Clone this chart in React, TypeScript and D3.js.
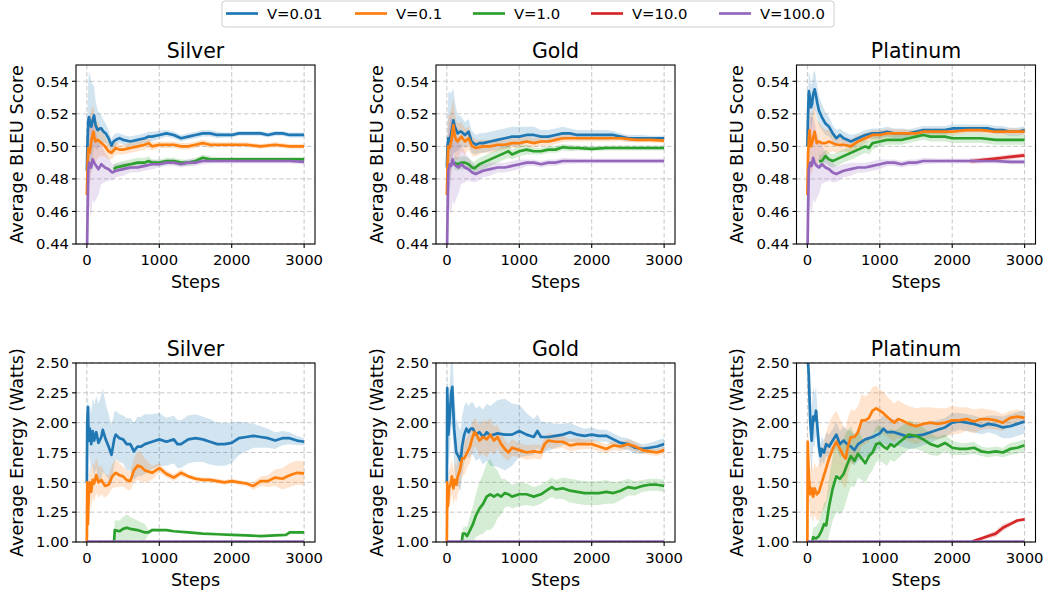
import React from 'react';
import * as d3 from 'd3';

type P = [number, number, number]; // [step, mean, half-width of band]

// ---------------- legend / axes text ----------------
const SERIES_LABELS = ['V=0.01', 'V=0.1', 'V=1.0', 'V=10.0', 'V=100.0'];
const SERIES_COLORS = ['#1f77b4', '#ff7f0e', '#2ca02c', '#d62728', '#9467bd'];
const PANEL_TITLES = ['Silver', 'Gold', 'Platinum'];
const X_TICKS = [0, 1000, 2000, 3000];
const BLEU_TICKS = [0.44, 0.46, 0.48, 0.5, 0.52, 0.54];
const ENERGY_TICKS = [1.0, 1.25, 1.5, 1.75, 2.0, 2.25, 2.5];

// ---------------- BLEU: Silver ----------------
const silverBleuBlue: P[] = [[0,0.485,0.01],[10,0.505,0.02],[20,0.516,0.025],[30,0.518,0.028],[45,0.514,0.03],[60,0.512,0.028],[80,0.516,0.022],[100,0.519,0.018],[120,0.513,0.015],[150,0.51,0.012],[180,0.511,0.009],[200,0.511,0.008],[230,0.509,0.007],[260,0.508,0.006],[300,0.505,0.005],[340,0.5005,0.004],[370,0.503,0.004],[400,0.504,0.004],[450,0.505,0.003],[500,0.504,0.003],[600,0.503,0.003],[700,0.504,0.003],[800,0.505,0.003],[850,0.506,0.003],[900,0.506,0.003],[1000,0.507,0.0025],[1100,0.508,0.002],[1200,0.507,0.002],[1300,0.505,0.002],[1400,0.506,0.002],[1500,0.507,0.002],[1600,0.508,0.002],[1700,0.508,0.002],[1800,0.507,0.002],[1900,0.507,0.0015],[2000,0.507,0.0015],[2100,0.508,0.0015],[2200,0.508,0.0015],[2300,0.508,0.0015],[2400,0.508,0.0015],[2500,0.507,0.0015],[2600,0.508,0.0015],[2700,0.508,0.0015],[2800,0.507,0.0015],[2900,0.507,0.0015],[3000,0.507,0.0015]];
const silverBleuOrange: P[] = [[0,0.47,0.015],[10,0.49,0.02],[20,0.499,0.02],[30,0.497,0.02],[40,0.496,0.02],[60,0.503,0.02],[75,0.506,0.018],[90,0.509,0.016],[105,0.505,0.015],[120,0.503,0.013],[150,0.504,0.011],[180,0.503,0.009],[200,0.502,0.008],[250,0.5,0.006],[300,0.497,0.005],[340,0.496,0.004],[400,0.499,0.004],[450,0.498,0.003],[500,0.498,0.003],[600,0.499,0.003],[700,0.5,0.003],[800,0.501,0.003],[850,0.502,0.003],[900,0.5,0.0025],[1000,0.501,0.002],[1100,0.501,0.002],[1200,0.501,0.002],[1300,0.5,0.002],[1400,0.5,0.002],[1500,0.501,0.002],[1600,0.502,0.002],[1700,0.501,0.002],[1800,0.501,0.0015],[2000,0.501,0.0015],[2200,0.501,0.0015],[2400,0.5,0.0015],[2600,0.501,0.0015],[2800,0.5,0.0015],[3000,0.5,0.0015]];
const silverBleuGreen: P[] = [[370,0.486,0.003],[400,0.487,0.003],[500,0.488,0.003],[600,0.489,0.003],[700,0.49,0.003],[800,0.49,0.003],[850,0.491,0.003],[900,0.49,0.002],[1000,0.49,0.002],[1100,0.491,0.002],[1200,0.491,0.002],[1300,0.49,0.002],[1400,0.49,0.002],[1500,0.491,0.002],[1600,0.493,0.002],[1700,0.492,0.002],[1800,0.492,0.0015],[2000,0.492,0.0015],[2200,0.492,0.0015],[2400,0.492,0.0015],[2600,0.492,0.0015],[2800,0.492,0.0015],[3000,0.492,0.0015]];
const silverBleuPurple: P[] = [[0,0.43,0.02],[10,0.46,0.025],[20,0.485,0.025],[30,0.49,0.025],[40,0.488,0.028],[60,0.487,0.03],[80,0.492,0.025],[100,0.49,0.025],[130,0.488,0.02],[160,0.486,0.016],[200,0.489,0.012],[250,0.487,0.009],[300,0.486,0.007],[350,0.484,0.005],[400,0.485,0.004],[500,0.486,0.004],[600,0.487,0.003],[700,0.487,0.003],[800,0.488,0.003],[900,0.489,0.003],[1000,0.489,0.002],[1100,0.49,0.002],[1200,0.49,0.002],[1300,0.489,0.002],[1400,0.49,0.002],[1500,0.49,0.002],[1600,0.491,0.002],[1700,0.491,0.0015],[1800,0.491,0.0015],[2000,0.491,0.0015],[2200,0.491,0.0015],[2400,0.491,0.0015],[2600,0.491,0.0015],[2800,0.491,0.0015],[3000,0.4905,0.0015]];
const silverBleuRed: P[] = []; // fully hidden beneath V=100.0

// ---------------- BLEU: Gold ----------------
const goldBleuBlue: P[] = [[0,0.487,0.01],[10,0.5,0.02],[20,0.505,0.028],[30,0.504,0.03],[40,0.503,0.03],[60,0.508,0.025],[75,0.512,0.022],[90,0.516,0.02],[110,0.512,0.016],[130,0.51,0.013],[150,0.508,0.011],[180,0.509,0.01],[200,0.509,0.009],[250,0.507,0.008],[300,0.509,0.008],[340,0.503,0.007],[400,0.501,0.006],[450,0.502,0.006],[500,0.502,0.006],[600,0.503,0.006],[700,0.504,0.006],[800,0.505,0.006],[900,0.506,0.006],[1000,0.506,0.006],[1100,0.507,0.005],[1200,0.507,0.005],[1300,0.506,0.004],[1400,0.506,0.004],[1500,0.507,0.004],[1600,0.508,0.004],[1700,0.508,0.003],[1800,0.507,0.003],[1900,0.507,0.003],[2000,0.507,0.003],[2100,0.507,0.003],[2200,0.507,0.003],[2300,0.507,0.0025],[2400,0.506,0.002],[2500,0.505,0.002],[2600,0.505,0.002],[2700,0.505,0.002],[2800,0.505,0.0015],[2900,0.505,0.0015],[3000,0.505,0.0015]];
const goldBleuOrange: P[] = [[0,0.47,0.015],[10,0.49,0.02],[20,0.5,0.02],[40,0.499,0.02],[60,0.503,0.02],[75,0.508,0.018],[90,0.513,0.016],[110,0.506,0.014],[130,0.504,0.012],[150,0.503,0.011],[200,0.506,0.009],[250,0.503,0.008],[300,0.505,0.007],[350,0.5,0.006],[400,0.499,0.005],[500,0.5,0.004],[600,0.5,0.004],[700,0.501,0.004],[800,0.501,0.003],[900,0.502,0.003],[1000,0.502,0.003],[1100,0.503,0.003],[1200,0.502,0.003],[1300,0.503,0.003],[1400,0.503,0.003],[1500,0.504,0.0025],[1600,0.505,0.0025],[1700,0.505,0.002],[1800,0.505,0.002],[2000,0.505,0.002],[2200,0.505,0.002],[2400,0.505,0.002],[2600,0.504,0.0015],[2800,0.504,0.0015],[3000,0.5035,0.0015]];
const goldBleuGreen: P[] = [[100,0.49,0.004],[150,0.489,0.004],[200,0.49,0.004],[250,0.49,0.004],[300,0.489,0.004],[350,0.487,0.004],[380,0.4865,0.004],[450,0.489,0.004],[500,0.49,0.004],[600,0.492,0.004],[700,0.494,0.004],[800,0.496,0.004],[850,0.497,0.004],[900,0.495,0.003],[1000,0.497,0.003],[1100,0.498,0.003],[1200,0.497,0.002],[1300,0.497,0.002],[1400,0.498,0.002],[1500,0.498,0.002],[1600,0.4995,0.002],[1700,0.499,0.002],[1800,0.499,0.0015],[2000,0.4985,0.0015],[2200,0.499,0.0015],[2400,0.499,0.0015],[2600,0.499,0.0015],[2800,0.499,0.0015],[3000,0.499,0.0015]];
const goldBleuPurple: P[] = [[0,0.43,0.02],[10,0.46,0.025],[20,0.485,0.025],[40,0.489,0.028],[60,0.488,0.03],[80,0.492,0.025],[100,0.489,0.025],[130,0.488,0.02],[160,0.487,0.016],[200,0.489,0.012],[250,0.487,0.009],[300,0.486,0.007],[350,0.484,0.006],[400,0.483,0.005],[500,0.485,0.004],[600,0.486,0.004],[700,0.487,0.003],[800,0.487,0.003],[900,0.488,0.003],[1000,0.489,0.003],[1100,0.49,0.002],[1200,0.49,0.002],[1300,0.489,0.002],[1400,0.49,0.002],[1500,0.49,0.002],[1600,0.491,0.002],[1800,0.491,0.0015],[2000,0.491,0.0015],[2200,0.491,0.0015],[2400,0.491,0.0015],[2600,0.491,0.0015],[2800,0.491,0.0015],[3000,0.491,0.0015]];
const goldBleuRed: P[] = []; // fully hidden beneath V=100.0

// ---------------- BLEU: Platinum ----------------
const platBleuBlue: P[] = [[0,0.5,0.01],[10,0.52,0.012],[20,0.534,0.012],[35,0.53,0.014],[50,0.524,0.014],[65,0.526,0.013],[80,0.532,0.013],[100,0.535,0.012],[120,0.531,0.011],[140,0.526,0.01],[160,0.522,0.009],[200,0.518,0.008],[250,0.514,0.007],[300,0.512,0.006],[350,0.508,0.005],[400,0.505,0.005],[450,0.507,0.004],[500,0.505,0.004],[550,0.504,0.004],[600,0.503,0.004],[700,0.505,0.003],[800,0.507,0.003],[900,0.508,0.003],[1000,0.508,0.003],[1100,0.509,0.003],[1200,0.508,0.003],[1300,0.508,0.003],[1400,0.508,0.0025],[1500,0.509,0.0025],[1600,0.51,0.0025],[1700,0.51,0.0025],[1800,0.51,0.0025],[1900,0.51,0.0025],[2000,0.511,0.0025],[2100,0.511,0.0025],[2200,0.511,0.0025],[2300,0.511,0.0025],[2400,0.511,0.0025],[2500,0.511,0.0025],[2600,0.51,0.0025],[2700,0.51,0.0025],[2800,0.509,0.0025],[2900,0.509,0.0025],[3000,0.51,0.0025]];
const platBleuOrange: P[] = [[0,0.47,0.015],[10,0.495,0.015],[20,0.505,0.015],[30,0.51,0.016],[50,0.5,0.018],[70,0.503,0.018],[90,0.507,0.017],[100,0.509,0.016],[130,0.502,0.014],[160,0.503,0.012],[200,0.502,0.01],[250,0.502,0.008],[300,0.503,0.007],[350,0.502,0.005],[400,0.501,0.005],[500,0.501,0.004],[600,0.5,0.004],[700,0.503,0.004],[800,0.505,0.003],[900,0.507,0.003],[1000,0.507,0.003],[1100,0.508,0.0025],[1200,0.508,0.0025],[1300,0.508,0.0025],[1400,0.508,0.002],[1500,0.508,0.002],[1600,0.509,0.002],[1800,0.509,0.002],[2000,0.509,0.002],[2200,0.51,0.002],[2400,0.51,0.002],[2600,0.509,0.002],[2800,0.509,0.002],[3000,0.509,0.002]];
const platBleuGreen: P[] = [[160,0.491,0.004],[200,0.491,0.004],[250,0.494,0.004],[300,0.492,0.004],[350,0.491,0.004],[400,0.492,0.004],[500,0.494,0.004],[600,0.496,0.004],[700,0.498,0.004],[800,0.5,0.004],[850,0.499,0.004],[900,0.502,0.004],[1000,0.503,0.003],[1100,0.504,0.003],[1200,0.504,0.003],[1300,0.504,0.003],[1400,0.505,0.003],[1500,0.506,0.003],[1600,0.507,0.003],[1700,0.506,0.003],[1800,0.506,0.003],[1900,0.506,0.003],[2000,0.505,0.003],[2200,0.505,0.003],[2400,0.505,0.003],[2600,0.504,0.003],[2800,0.504,0.003],[3000,0.504,0.003]];
const platBleuRed: P[] = [[2250,0.491,0.0015],[2300,0.491,0.0015],[2400,0.4915,0.0015],[2500,0.492,0.0015],[2600,0.4925,0.0015],[2700,0.493,0.0015],[2800,0.4935,0.0015],[2900,0.494,0.0015],[3000,0.4945,0.0015]];
const platBleuPurple: P[] = [[0,0.43,0.02],[10,0.46,0.025],[20,0.486,0.025],[40,0.49,0.028],[60,0.488,0.03],[80,0.493,0.025],[100,0.49,0.025],[130,0.488,0.02],[160,0.487,0.016],[200,0.489,0.012],[250,0.487,0.009],[300,0.486,0.007],[350,0.484,0.006],[400,0.483,0.005],[500,0.485,0.004],[600,0.486,0.004],[700,0.487,0.003],[800,0.487,0.003],[900,0.488,0.003],[1000,0.489,0.003],[1100,0.49,0.002],[1200,0.49,0.002],[1300,0.489,0.002],[1400,0.49,0.002],[1500,0.49,0.002],[1600,0.491,0.002],[1800,0.491,0.0015],[2000,0.491,0.0015],[2200,0.491,0.0015],[2400,0.491,0.0015],[2600,0.491,0.0015],[2800,0.4905,0.0015],[3000,0.4905,0.0015]];

// ---------------- Energy: Silver ----------------
const silverEnergyBlue: P[] = [[0,1.5,0.05],[5,2.0,0.1],[15,2.13,0.15],[25,1.85,0.2],[40,1.95,0.22],[60,1.82,0.25],[80,1.93,0.28],[100,1.85,0.3],[130,1.92,0.3],[160,1.83,0.33],[200,1.88,0.35],[220,1.94,0.35],[260,1.86,0.3],[300,1.8,0.27],[340,1.73,0.25],[380,1.87,0.22],[400,1.9,0.2],[450,1.87,0.2],[500,1.86,0.2],[550,1.82,0.22],[600,1.82,0.22],[650,1.76,0.24],[700,1.8,0.25],[750,1.8,0.25],[800,1.82,0.25],[900,1.84,0.23],[1000,1.86,0.22],[1100,1.84,0.2],[1200,1.86,0.2],[1250,1.82,0.2],[1300,1.82,0.2],[1400,1.86,0.2],[1500,1.87,0.2],[1600,1.86,0.19],[1700,1.84,0.19],[1800,1.82,0.18],[1900,1.82,0.18],[2000,1.83,0.17],[2100,1.87,0.14],[2200,1.88,0.12],[2300,1.89,0.1],[2400,1.88,0.09],[2500,1.87,0.08],[2600,1.85,0.07],[2700,1.87,0.06],[2800,1.87,0.05],[2900,1.85,0.04],[3000,1.84,0.03]];
const silverEnergyOrange: P[] = [[0,1.0,0.05],[5,1.5,0.1],[15,1.15,0.15],[25,1.38,0.15],[40,1.5,0.15],[60,1.42,0.15],[80,1.52,0.15],[100,1.49,0.15],[130,1.56,0.15],[160,1.5,0.13],[200,1.52,0.12],[250,1.47,0.1],[300,1.48,0.08],[350,1.55,0.1],[400,1.58,0.12],[450,1.56,0.1],[500,1.55,0.08],[550,1.52,0.08],[600,1.51,0.08],[650,1.6,0.1],[700,1.64,0.12],[750,1.63,0.12],[800,1.6,0.1],[900,1.58,0.06],[1000,1.62,0.04],[1100,1.57,0.03],[1200,1.54,0.03],[1300,1.58,0.03],[1400,1.55,0.02],[1500,1.53,0.02],[1600,1.52,0.02],[1700,1.52,0.02],[1800,1.51,0.02],[1900,1.5,0.02],[2000,1.51,0.02],[2100,1.5,0.02],[2200,1.49,0.02],[2300,1.47,0.03],[2400,1.51,0.04],[2500,1.51,0.05],[2600,1.54,0.07],[2700,1.53,0.09],[2800,1.56,0.1],[2900,1.58,0.1],[3000,1.575,0.1]];
const silverEnergyGreen: P[] = [[370,0.95,0],[385,1.1,0.08],[450,1.09,0.09],[500,1.11,0.1],[550,1.12,0.11],[600,1.11,0.1],[700,1.1,0.08],[800,1.08,0.07],[850,1.08,0.02],[900,1.1,0.015],[1000,1.1,0.01],[1100,1.1,0.008],[1200,1.09,0.006],[1400,1.08,0.005],[1600,1.07,0.005],[1800,1.065,0.005],[2000,1.06,0.005],[2200,1.055,0.005],[2400,1.05,0.005],[2600,1.055,0.005],[2750,1.06,0.005],[2800,1.08,0.015],[3000,1.08,0.015]];
const silverEnergyPurple: P[] = [[0,1.004,0],[500,1.004,0],[1000,1.004,0],[1500,1.004,0],[2000,1.004,0],[2500,1.004,0],[3000,1.004,0]];
const silverEnergyRed: P[] = []; // below the visible range

// ---------------- Energy: Gold ----------------
const goldEnergyBlue: P[] = [[0,1.5,0.1],[5,2.29,0.2],[20,1.9,0.25],[40,2.05,0.3],[60,2.25,0.3],[75,2.3,0.3],[100,1.95,0.3],[130,1.75,0.28],[160,1.72,0.26],[190,1.68,0.25],[210,1.8,0.25],[240,1.9,0.24],[270,1.95,0.22],[300,1.92,0.22],[330,1.95,0.22],[360,1.95,0.22],[400,1.9,0.22],[450,1.92,0.22],[500,1.88,0.23],[550,1.92,0.24],[600,1.89,0.25],[700,1.91,0.28],[800,1.9,0.3],[900,1.9,0.26],[1000,1.93,0.22],[1100,1.9,0.18],[1200,1.88,0.15],[1250,1.93,0.14],[1300,1.88,0.13],[1400,1.88,0.12],[1500,1.89,0.1],[1600,1.9,0.09],[1700,1.92,0.08],[1800,1.9,0.07],[1900,1.89,0.06],[2000,1.9,0.06],[2100,1.89,0.05],[2200,1.89,0.05],[2300,1.86,0.05],[2400,1.83,0.05],[2500,1.82,0.05],[2600,1.79,0.05],[2700,1.78,0.04],[2800,1.79,0.04],[2900,1.8,0.05],[3000,1.82,0.05]];
const goldEnergyOrange: P[] = [[0,1.0,0.05],[5,1.5,0.15],[15,1.3,0.15],[30,1.45,0.15],[50,1.48,0.15],[70,1.55,0.15],[90,1.45,0.15],[110,1.52,0.15],[130,1.48,0.15],[150,1.55,0.15],[180,1.6,0.15],[210,1.7,0.15],[240,1.7,0.14],[280,1.75,0.13],[320,1.8,0.13],[350,1.87,0.13],[380,1.92,0.12],[400,1.91,0.12],[450,1.85,0.13],[500,1.88,0.14],[550,1.86,0.15],[600,1.9,0.14],[650,1.85,0.12],[700,1.88,0.1],[750,1.82,0.09],[800,1.78,0.08],[850,1.75,0.07],[900,1.79,0.07],[1000,1.77,0.06],[1100,1.75,0.06],[1200,1.76,0.06],[1300,1.75,0.06],[1350,1.82,0.06],[1400,1.85,0.06],[1500,1.84,0.06],[1600,1.84,0.05],[1700,1.81,0.05],[1800,1.82,0.05],[1900,1.82,0.04],[2000,1.82,0.04],[2100,1.8,0.04],[2200,1.78,0.04],[2300,1.81,0.04],[2400,1.8,0.04],[2500,1.82,0.04],[2600,1.8,0.04],[2700,1.77,0.03],[2800,1.76,0.03],[2900,1.75,0.03],[3000,1.77,0.03]];
const goldEnergyGreen: P[] = [[190,0.98,0],[210,1.02,0.04],[220,1.07,0.05],[250,1.07,0.06],[280,1.05,0.08],[320,1.1,0.12],[360,1.15,0.15],[400,1.22,0.18],[450,1.28,0.22],[500,1.32,0.25],[550,1.38,0.28],[600,1.4,0.3],[650,1.38,0.25],[700,1.4,0.2],[750,1.38,0.15],[800,1.41,0.12],[850,1.4,0.1],[900,1.38,0.1],[1000,1.4,0.1],[1100,1.4,0.09],[1200,1.38,0.08],[1300,1.4,0.08],[1400,1.44,0.08],[1450,1.46,0.08],[1500,1.44,0.08],[1600,1.45,0.09],[1700,1.43,0.1],[1800,1.42,0.1],[1900,1.41,0.1],[2000,1.41,0.1],[2100,1.41,0.1],[2200,1.42,0.1],[2300,1.41,0.09],[2400,1.43,0.08],[2500,1.46,0.07],[2600,1.45,0.06],[2700,1.47,0.05],[2800,1.48,0.05],[2900,1.48,0.05],[3000,1.47,0.05]];
const goldEnergyPurple: P[] = [[0,1.004,0],[500,1.004,0],[1000,1.004,0],[1500,1.004,0],[2000,1.004,0],[2500,1.004,0],[3000,1.004,0]];
const goldEnergyRed: P[] = []; // below the visible range

// ---------------- Energy: Platinum ----------------
const platEnergyBlue: P[] = [[0,2.6,0.3],[20,2.4,0.3],[40,2.0,0.28],[60,1.85,0.27],[80,2.05,0.25],[100,2.02,0.22],[120,2.1,0.2],[140,1.95,0.15],[160,1.8,0.12],[180,1.72,0.1],[200,1.78,0.1],[230,1.75,0.1],[260,1.82,0.1],[300,1.8,0.1],[350,1.85,0.1],[400,1.9,0.11],[450,1.82,0.11],[500,1.85,0.12],[550,1.82,0.12],[600,1.8,0.13],[650,1.77,0.13],[700,1.82,0.14],[800,1.86,0.15],[900,1.88,0.14],[1000,1.91,0.12],[1050,1.95,0.12],[1100,1.92,0.12],[1200,1.92,0.11],[1300,1.9,0.1],[1400,1.88,0.1],[1500,1.89,0.1],[1600,1.9,0.09],[1700,1.92,0.09],[1800,1.94,0.08],[1900,1.96,0.08],[2000,2.0,0.08],[2100,2.01,0.07],[2200,2.0,0.07],[2300,1.99,0.07],[2400,1.97,0.07],[2500,1.99,0.07],[2600,1.98,0.08],[2700,1.96,0.09],[2800,1.97,0.1],[2900,1.99,0.1],[3000,2.01,0.1]];
const platEnergyOrange: P[] = [[0,1.0,0.05],[5,1.84,0.2],[20,1.55,0.2],[40,1.4,0.2],[60,1.45,0.22],[80,1.38,0.22],[100,1.45,0.22],[130,1.4,0.22],[160,1.42,0.24],[200,1.5,0.26],[250,1.6,0.3],[300,1.7,0.3],[350,1.78,0.28],[400,1.84,0.26],[450,1.78,0.25],[500,1.72,0.25],[530,1.7,0.25],[560,1.8,0.24],[600,1.88,0.23],[650,1.88,0.22],[700,1.92,0.22],[750,2.02,0.22],[800,2.02,0.2],[850,2.04,0.2],[900,2.1,0.2],[950,2.12,0.19],[1000,2.1,0.18],[1050,2.08,0.18],[1100,2.05,0.17],[1200,2.0,0.16],[1250,2.03,0.16],[1300,2.02,0.15],[1400,1.99,0.15],[1500,1.97,0.15],[1600,1.99,0.14],[1700,2.0,0.13],[1800,1.99,0.13],[1900,2.0,0.12],[2000,2.02,0.12],[2100,2.02,0.11],[2200,2.03,0.1],[2300,2.01,0.1],[2400,2.03,0.09],[2500,2.03,0.08],[2600,2.02,0.08],[2700,2.0,0.07],[2800,2.04,0.06],[2900,2.05,0.06],[3000,2.04,0.05]];
const platEnergyGreen: P[] = [[60,0.98,0.05],[80,1.04,0.08],[120,1.03,0.1],[160,1.05,0.12],[200,1.1,0.15],[230,1.15,0.18],[260,1.14,0.2],[300,1.3,0.24],[350,1.45,0.27],[400,1.55,0.3],[450,1.53,0.3],[500,1.57,0.3],[550,1.65,0.28],[600,1.72,0.25],[650,1.68,0.22],[700,1.74,0.2],[750,1.7,0.18],[800,1.66,0.17],[850,1.72,0.16],[900,1.75,0.15],[950,1.82,0.15],[1000,1.83,0.15],[1050,1.8,0.14],[1100,1.78,0.14],[1150,1.82,0.13],[1200,1.8,0.13],[1300,1.85,0.12],[1400,1.9,0.12],[1500,1.89,0.11],[1600,1.86,0.1],[1700,1.82,0.09],[1800,1.8,0.08],[1900,1.83,0.07],[2000,1.79,0.06],[2100,1.78,0.05],[2200,1.78,0.05],[2300,1.79,0.05],[2400,1.76,0.04],[2500,1.75,0.04],[2600,1.76,0.04],[2700,1.75,0.04],[2800,1.78,0.05],[2900,1.79,0.05],[3000,1.81,0.05]];
const platEnergyRed: P[] = [[2250,0.99,0],[2300,1.01,0.01],[2400,1.03,0.015],[2500,1.05,0.02],[2600,1.07,0.025],[2700,1.12,0.03],[2800,1.15,0.02],[2900,1.18,0.015],[3000,1.19,0.01]];
const platEnergyPurple: P[] = [[0,1.004,0],[500,1.004,0],[1000,1.004,0],[1500,1.004,0],[2000,1.004,0],[2500,1.004,0],[3000,1.004,0]];

// ---------------- layout ----------------
const WIDTH = 1047;
const HEIGHT = 594;
const PLOT_W = 239;
const PLOT_H = 179;
const COL_LEFT = [76, 436, 796.5];
const ROW_TOP = [65, 363];
const FONT = '"DejaVu Sans", sans-serif';

interface RowCfg { ylabel: string; domain: [number, number]; ticks: number[]; panels: P[][][] }

const rows: RowCfg[] = [
  {
    ylabel: 'Average BLEU Score', domain: [0.44, 0.55], ticks: BLEU_TICKS,
    panels: [
      [silverBleuBlue, silverBleuOrange, silverBleuGreen, silverBleuRed, silverBleuPurple],
      [goldBleuBlue, goldBleuOrange, goldBleuGreen, goldBleuRed, goldBleuPurple],
      [platBleuBlue, platBleuOrange, platBleuGreen, platBleuRed, platBleuPurple],
    ],
  },
  {
    ylabel: 'Average Energy (Watts)', domain: [1.0, 2.5], ticks: ENERGY_TICKS,
    panels: [
      [silverEnergyBlue, silverEnergyOrange, silverEnergyGreen, silverEnergyRed, silverEnergyPurple],
      [goldEnergyBlue, goldEnergyOrange, goldEnergyGreen, goldEnergyRed, goldEnergyPurple],
      [platEnergyBlue, platEnergyOrange, platEnergyGreen, platEnergyRed, platEnergyPurple],
    ],
  },
];

const LEGEND_X = [226, 355, 473, 591, 719];

function Panel({ row, col, cfg }: { row: number; col: number; cfg: RowCfg }) {
  const x = d3.scaleLinear().domain([-150, 3150]).range([0, PLOT_W]);
  const y = d3.scaleLinear().domain(cfg.domain).range([PLOT_H, 0]);
  const line = d3.line<P>().x(d => x(d[0])).y(d => y(d[1]));
  const area = d3.area<P>().x(d => x(d[0])).y0(d => y(d[1] - d[2])).y1(d => y(d[1] + d[2]));
  const clipId = `clip-${row}-${col}`;
  const series = cfg.panels[col];
  return (
    <g transform={`translate(${COL_LEFT[col]},${ROW_TOP[row]})`}>
      <defs>
        <clipPath id={clipId}><rect x={0} y={0} width={PLOT_W} height={PLOT_H} /></clipPath>
      </defs>
      {X_TICKS.map(t => (
        <line key={'gx' + t} x1={x(t)} x2={x(t)} y1={0} y2={PLOT_H} stroke="#b0b0b0" strokeOpacity={0.7} strokeWidth={1} strokeDasharray="4.5,2.5" />
      ))}
      {cfg.ticks.map(t => (
        <line key={'gy' + t} x1={0} x2={PLOT_W} y1={y(t)} y2={y(t)} stroke="#b0b0b0" strokeOpacity={0.7} strokeWidth={1} strokeDasharray="4.5,2.5" />
      ))}
      <g clipPath={`url(#${clipId})`}>
        {series.map((s, i) => s.length ? (
          <path key={'a' + i} d={area(s) || ''} fill={SERIES_COLORS[i]} fillOpacity={0.2} stroke="none" />
        ) : null)}
        {series.map((s, i) => s.length ? (
          <path key={'l' + i} d={line(s) || ''} fill="none" stroke={SERIES_COLORS[i]} strokeWidth={2.7} strokeLinejoin="round" />
        ) : null)}
      </g>
      <rect x={0} y={0} width={PLOT_W} height={PLOT_H} fill="none" stroke="#000" strokeWidth={1.1} />
      {X_TICKS.map(t => (
        <g key={'tx' + t}>
          <line x1={x(t)} x2={x(t)} y1={PLOT_H} y2={PLOT_H + 4} stroke="#000" strokeWidth={1.1} />
          <text x={x(t)} y={PLOT_H + 21} textAnchor="middle" fontSize={14.8} fontFamily={FONT} fill="#000">{t}</text>
        </g>
      ))}
      {cfg.ticks.map(t => (
        <g key={'ty' + t}>
          <line x1={-4} x2={0} y1={y(t)} y2={y(t)} stroke="#000" strokeWidth={1.1} />
          <text x={-7} y={y(t) + 5.3} textAnchor="end" fontSize={14.8} fontFamily={FONT} fill="#000">{d3.format('.2f')(t)}</text>
        </g>
      ))}
      <text x={PLOT_W / 2} y={-7.5} textAnchor="middle" fontSize={20.5} fontFamily={FONT} fill="#000">{PANEL_TITLES[col]}</text>
      <text x={PLOT_W / 2} y={PLOT_H + 43.5} textAnchor="middle" fontSize={17.6} fontFamily={FONT} fill="#000">Steps</text>
      <text transform={`translate(${-53.5},${PLOT_H / 2}) rotate(-90)`} textAnchor="middle" fontSize={17.6} fontFamily={FONT} fill="#000">{cfg.ylabel}</text>
    </g>
  );
}

export default function App() {
  return (
    <svg width={WIDTH} height={HEIGHT} style={{ position: 'absolute', left: 0, top: 0, background: '#fff' }} xmlns="http://www.w3.org/2000/svg">
      <rect x={0} y={0} width={WIDTH} height={HEIGHT} fill="#fff" />
      {rows.map((cfg, r) => [0, 1, 2].map(c => <Panel key={`${r}-${c}`} row={r} col={c} cfg={cfg} />))}
      <g>
        <rect x={222} y={1} width={612} height={26} rx={3} fill="#fff" fillOpacity={0.8} stroke="#cccccc" strokeWidth={1} />
        {SERIES_LABELS.map((lab, i) => (
          <g key={lab}>
            <line x1={LEGEND_X[i]} x2={LEGEND_X[i] + 32} y1={13.5} y2={13.5} stroke={SERIES_COLORS[i]} strokeWidth={2.7} />
            <text x={LEGEND_X[i] + 41} y={18.8} fontSize={14.8} fontFamily={FONT} fill="#000">{lab}</text>
          </g>
        ))}
      </g>
    </svg>
  );
}
